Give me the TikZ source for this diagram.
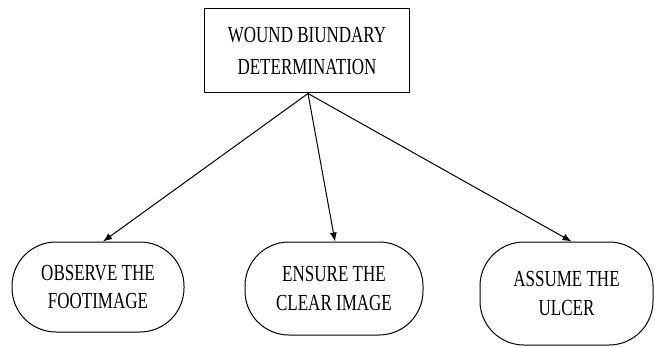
\documentclass[tikz,border=0pt]{standalone}
\usepackage{fontspec}
\usepackage{tikz}
\usetikzlibrary{arrows.meta}
\newfontfamily\narrowserif[FakeStretch=0.74]{Liberation Serif}

\begin{document}
\begin{tikzpicture}[x=1pt,y=-1pt,
  box/.style={draw,line width=1pt,align=center,inner sep=0pt,
    font=\narrowserif\fontsize{23}{32}\selectfont},
  pill/.style={draw,line width=1pt,rounded corners=44pt,align=center,inner sep=0pt,
    font=\narrowserif\fontsize{23}{28.5}\selectfont},
  link/.style={line width=1pt,-{Latex[length=9pt,width=7pt]}}]
  \useasboundingbox (0,0) rectangle (655,347);
  \node[box,minimum width=205pt,minimum height=84pt] (wound) at (307,51)
    {WOUND BIUNDARY\\DETERMINATION};
  \node[pill,minimum width=172pt,minimum height=90pt] (observe) at (98,287)
    {OBSERVE THE\\FOOTIMAGE};
  \node[pill,minimum width=178pt,minimum height=93pt] (ensure) at (334,288.5)
    {ENSURE THE\\CLEAR IMAGE};
  \node[pill,minimum width=173pt,minimum height=103pt] (assume) at (566.5,293.5)
    {ASSUME THE\\ULCER};
  \draw[link] ([xshift=1pt]wound.south) -- ([xshift=5pt]observe.north);
  \draw[link] ([xshift=1pt]wound.south) -- ([xshift=1pt]ensure.north);
  \draw[link] ([xshift=1pt]wound.south) -- ([xshift=5pt]assume.north);
\end{tikzpicture}
\end{document}
